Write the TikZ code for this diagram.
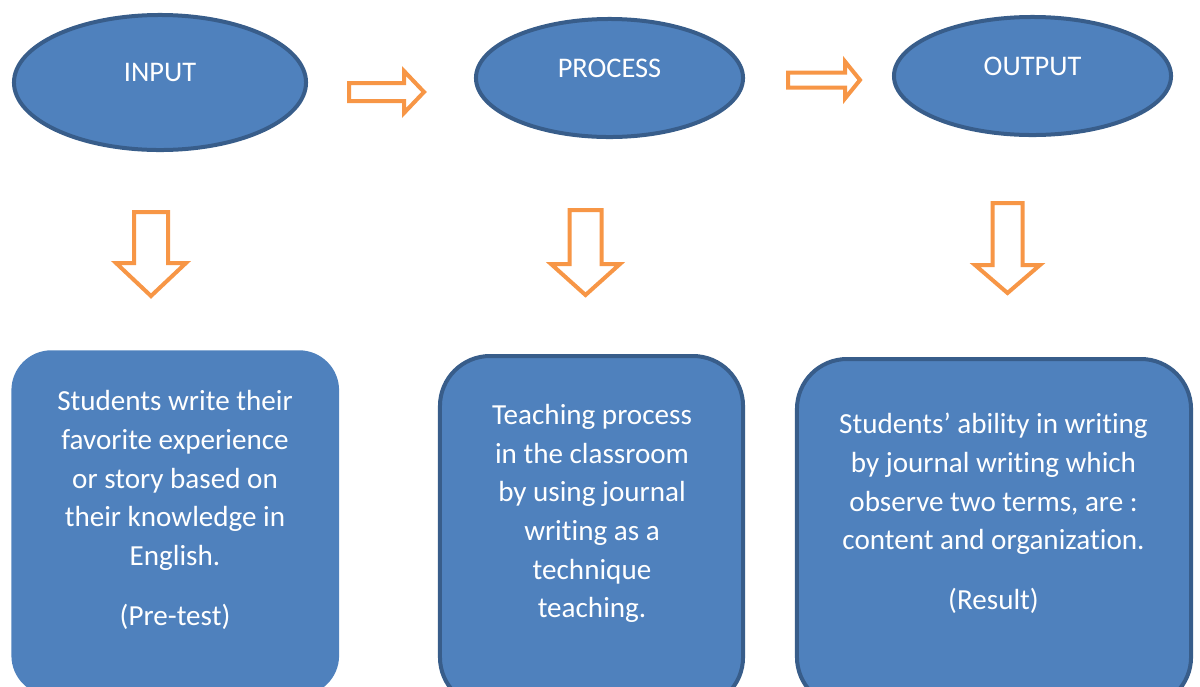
\documentclass[tikz,border=0pt]{standalone}
\usepackage{fontspec}
\setmainfont{Carlito}[Ligatures=NoCommon]
\usepackage{tikz}
\usetikzlibrary{shapes.geometric}
\definecolor{boxblue}{HTML}{4F81BD}
\definecolor{edgeblue}{HTML}{385D8A}
\definecolor{arroworange}{HTML}{F79646}
\tikzset{stage/.style={ellipse, draw=edgeblue, fill=boxblue, line width=0.1cm, inner sep=0pt},
  stagelabel/.style={text=white, font=\fontsize{20.2}{24}\selectfont, yshift=0.245cm},
  stagebox/.style={rectangle, fill=boxblue, anchor=north, inner sep=0pt},
  framed/.style={draw=edgeblue, line width=0.1cm},
  boxtext/.style={text=white, align=center, inner sep=0pt, font=\fontsize{20.7}{27.5}\selectfont},
  hollowarrow/.style={draw=arroworange, fill=white, line width=0.1cm, line join=miter}}

\begin{document}
\begin{tikzpicture}[x=0.025cm, y=-0.025cm]
  \useasboundingbox (0,0) rectangle (1200,686);
  \clip (0,0) rectangle (1200,686);

  \node[stage, minimum width=7.3cm, minimum height=3.375cm,
    label={[stagelabel]center:INPUT}] (input) at (160,82.5) {};
  \node[stage, minimum width=6.675cm, minimum height=2.95cm,
    label={[stagelabel]center:PROCESS}] (process) at (609.5,78) {};
  \node[stage, minimum width=6.925cm, minimum height=2.95cm,
    label={[stagelabel]center:OUTPUT}] (output) at (1032.5,76) {};

  % arrows pointing right, between the ellipses
  \foreach \y/\l/\b/\r/\s/\h in {92/349/404/424/9/21, 80/788/845/860/7.5/18.5} {
    \draw[hollowarrow] (\l,\y-\s) -- (\b,\y-\s) -- (\b,\y-\h) -- (\r,\y)
      -- (\b,\y+\h) -- (\b,\y+\s) -- (\l,\y+\s) -- cycle;
  }
  % arrows pointing down, under the ellipses
  \foreach \x/\t/\s/\h/\m/\p in {151/212/17/35/263/296, 585.5/210/16/34.5/264/295,
    1007.5/203/15/32.5/265/293} {
    \draw[hollowarrow] (\x-\s,\t) -- (\x+\s,\t) -- (\x+\s,\m) -- (\x+\h,\m)
      -- (\x,\p) -- (\x-\h,\m) -- (\x-\s,\m) -- cycle;
  }

  \node[stagebox, minimum width=8.19cm, minimum height=8.63cm,
    rounded corners=1cm] (inputbox) at (175.25,350) {};
  \node[stagebox, framed, minimum width=7.575cm, minimum height=8.78cm,
    rounded corners=1.25cm] (processbox) at (591.5,354) {};
  \node[stagebox, framed, minimum width=9.85cm, minimum height=8.7cm,
    rounded corners=1.25cm] (outputbox) at (994,357) {};

  \node[boxtext] (inputtext) at (175,510) {Students write their\\favorite experience\\
    or story based on\\their knowledge in\\English.\\[0.535cm](Pre-test)};
  \node[boxtext] (processtext) at (592,513.5) {Teaching process\\in the classroom\\
    by using journal\\writing as a\\technique\\teaching.};
  \node[boxtext] (outputtext) at (993.5,513.6) {Students’ ability in writing\\
    by journal writing which\\observe two terms, are :\\content and organization.\\[0.535cm](Result)};
\end{tikzpicture}
\end{document}
